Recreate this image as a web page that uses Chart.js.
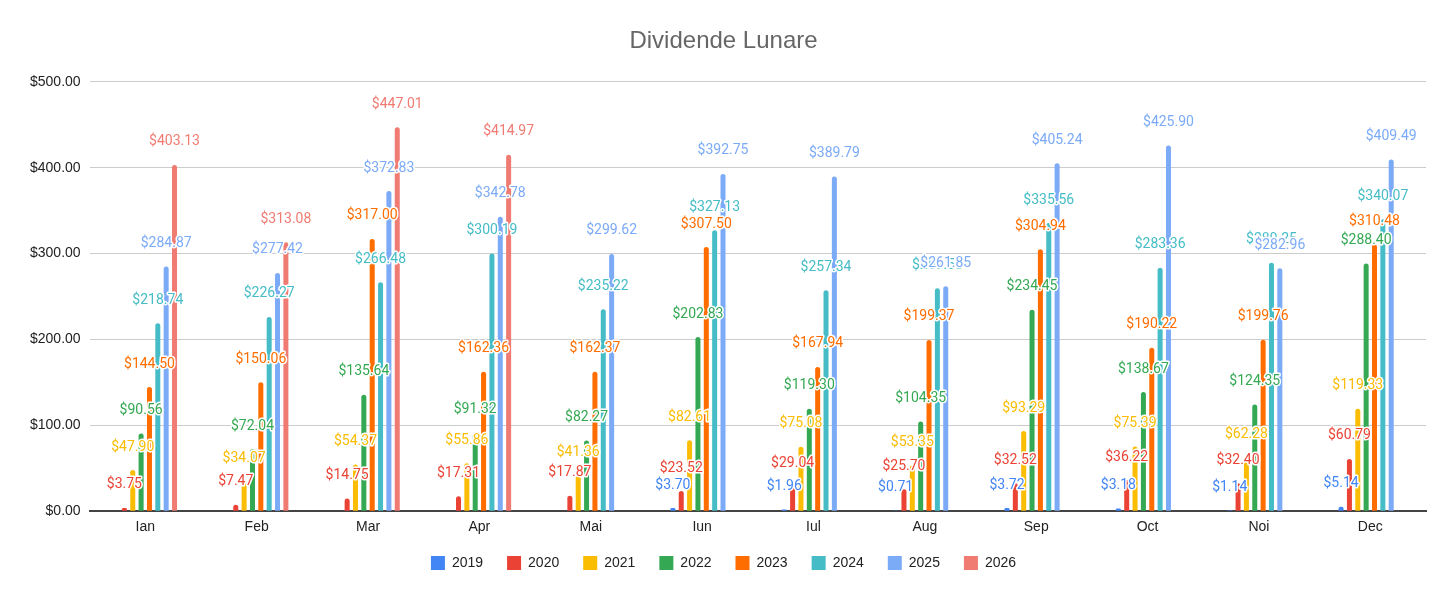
<!DOCTYPE html>
<html>
<head>
<meta charset="utf-8">
<script src="https://cdn.jsdelivr.net/npm/chart.js@4.4.1/dist/chart.umd.min.js"></script>
<style>
    html, body { margin: 0; padding: 0; background: #fff; }
    #wrap { width: 1456px; height: 598px; }
</style>
</head>
<body>
<div id="wrap"><canvas id="myChart"></canvas></div>
<script>
// months (romanian)
const months = ['Ian', 'Feb', 'Mar', 'Apr', 'Mai', 'Iun', 'Iul', 'Aug', 'Sep', 'Oct', 'Noi', 'Dec']
const years = ['2019', '2020', '2021', '2022', '2023', '2024', '2025', '2026']
const colors = ['#4285F4', '#EA4335', '#FBBC04', '#34A853', '#FF6D01', '#46BDC6', '#7BAAF7', '#F07B72']

const y2019 = [null, null, null, null, null, 3.70, 1.96, 0.71, 3.72, 3.18, 1.14, 5.14]
const y2020 = [3.75, 7.47, 14.75, 17.31, 17.87, 23.52, 29.04, 25.70, 32.52, 36.22, 32.40, 60.79]
const y2021 = [47.90, 34.07, 54.37, 55.86, 41.36, 82.61, 75.08, 53.35, 93.29, 75.39, 62.28, 119.33]
const y2022 = [90.56, 72.04, 135.64, 91.32, 82.27, 202.83, 119.30, 104.35, 234.45, 138.67, 124.35, 288.40]
const y2023 = [144.50, 150.06, 317.00, 162.36, 162.37, 307.50, 167.94, 199.37, 304.94, 190.22, 199.76, 310.48]
const y2024 = [218.74, 226.27, 266.48, 300.19, 235.22, 327.13, 257.34, 259.56, 335.56, 283.36, 289.25, 340.07]
const y2025 = [284.87, 277.42, 372.83, 342.78, 299.62, 392.75, 389.79, 261.85, 405.24, 425.90, 282.96, 409.49]
const y2026 = [403.13, 313.08, 447.01, 414.97, null, null, null, null, null, null, null, null]

const yTicks = [0, 100, 200, 300, 400, 500]

const series = [y2019, y2020, y2021, y2022, y2023, y2024, y2025, y2026]

function money(v) {
    return '$' + Number(v).toFixed(2)
}

// labels above the bars, white halo like sheets does
const barLabels = {
    id: 'barLabels',
    afterDatasetsDraw(chart) {
        const ctx = chart.ctx
        ctx.save()
        ctx.font = '14px Roboto'
        ctx.textAlign = 'center'
        ctx.textBaseline = 'middle'
        ctx.lineJoin = 'round'
        chart.data.datasets.forEach((ds, i) => {
            const meta = chart.getDatasetMeta(i)
            meta.data.forEach((bar, j) => {
                const v = ds.data[j]
                if (v === null || v === undefined) return
                const txt = money(v)
                ctx.lineWidth = 3
                ctx.strokeStyle = '#fff'
                ctx.strokeText(txt, bar.x, bar.y - 23)
                ctx.fillStyle = ds.backgroundColor
                ctx.fillText(txt, bar.x, bar.y - 23)
            })
        })
        ctx.restore()
    }
}

// pull the legend a bit closer to the axis (labels.padding also sets item spacing)
const legendNudge = {
    id: 'legendNudge',
    afterLayout(chart) {
        chart.legend.top -= 4
        chart.legend.bottom -= 4
    }
}

const ctx = document.getElementById('myChart')
const myChart = new Chart(ctx, {
    type: 'bar',
    data: {
        labels: months,
        datasets: years.map((y, i) => ({
            label: y,
            data: series[i],
            backgroundColor: colors[i],
            borderRadius: 3,
            borderSkipped: 'bottom',
            categoryPercentage: 0.6,
            barPercentage: 0.6
        }))
    },
    options: {
        responsive: true,
        maintainAspectRatio: false,
        animation: false,
        layout: {
            padding: { left: 21, right: 30, top: 0, bottom: 14 }
        },
        scales: {
            x: {
                grid: { display: false },
                border: { color: '#444', width: 2 },
                ticks: {
                    color: '#222',
                    padding: 0,
                    font: { family: "'Liberation Sans', Arial", size: 14 }
                }
            },
            y: {
                min: 0,
                max: 500,
                afterBuildTicks(scale) {
                    scale.ticks = yTicks.map(v => ({ value: v }))
                },
                border: { display: false },
                grid: {
                    drawTicks: false,
                    color: (c) => c.tick && c.tick.value === 0 ? 'rgba(0,0,0,0)' : '#cccccc'
                },
                ticks: {
                    color: '#222',
                    padding: 9,
                    font: { family: "'Liberation Sans', Arial", size: 14 },
                    callback: (v) => money(v)
                }
            }
        },
        plugins: {
            title: {
                display: true,
                text: 'Dividende Lunare',
                color: '#666',
                font: { family: "'Liberation Sans', Arial", size: 24, weight: 'normal' },
                padding: { top: 27, bottom: 26 }
            },
            legend: {
                position: 'bottom',
                labels: {
                    boxWidth: 14,
                    boxHeight: 14,
                    padding: 24,
                    color: '#222',
                    font: { family: "'Liberation Sans', Arial", size: 14 }
                }
            },
            tooltip: { enabled: false }
        }
    },
    plugins: [barLabels, legendNudge]
})
</script>
</body>
</html>
